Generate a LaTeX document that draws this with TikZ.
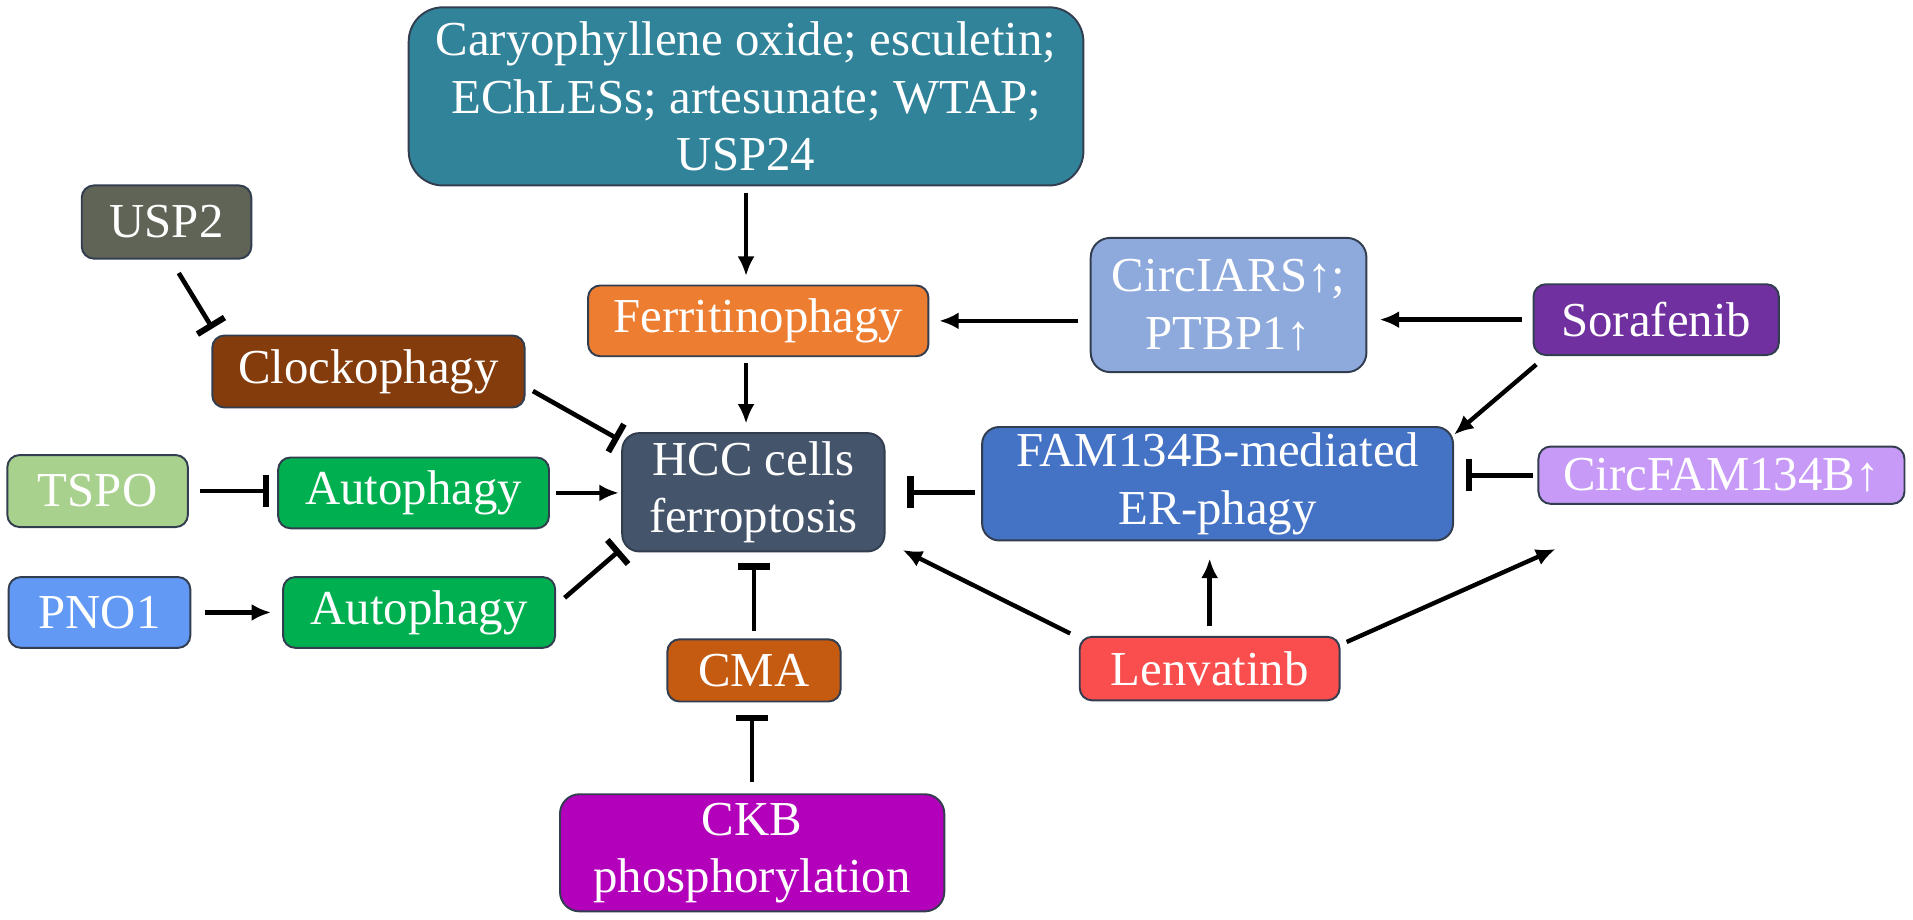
\documentclass[tikz,border=0pt]{standalone}
\usepackage{fontspec}
\setmainfont{Liberation Serif}
\usepackage{xcolor}
\usetikzlibrary{arrows.meta,calc,positioning}

\definecolor{boxline}{RGB}{50,62,79}
\definecolor{cTop}{HTML}{31839A}
\definecolor{cUsp}{HTML}{5F6457}
\definecolor{cFerr}{HTML}{ED7D31}
\definecolor{cCirc}{HTML}{8EA9DB}
\definecolor{cSora}{HTML}{7030A0}
\definecolor{cClock}{HTML}{843C0C}
\definecolor{cHcc}{HTML}{44546A}
\definecolor{cFam}{HTML}{4472C4}
\definecolor{cCfam}{HTML}{C89AF8}
\definecolor{cTspo}{HTML}{A9D18E}
\definecolor{cAuto}{HTML}{00B050}
\definecolor{cPno}{HTML}{6199F5}
\definecolor{cCma}{HTML}{C55A11}
\definecolor{cLenv}{HTML}{FA4D4D}
\definecolor{cCkb}{HTML}{B300BA}

\begin{document}
\begin{tikzpicture}[x=1pt,y=-1pt,
    box/.style={draw=boxline, line width=1.6pt, rounded corners=10pt, text=white,
                font=\fontsize{40}{47}\selectfont, align=center, inner sep=0pt},
    act/.style={-{Latex[length=16pt,width=14pt]}, line width=3.6pt},
    inh/.style={-{Bar[width=26pt,line width=5pt]}, line width=3.8pt}]
    \useasboundingbox (0,0) rectangle (1568,754);
    % boxes
    \node[box, fill=cTop, rounded corners=28pt, minimum width=553pt, minimum height=146pt] (top) at (611.5,79)
        {Caryophyllene oxide; esculetin;\\ EChLESs; artesunate; WTAP;\\ USP24};
    \node[box, fill=cUsp, minimum width=139pt, minimum height=60pt] (usp) at (136.5,182) {USP2};
    \node[box, fill=cFerr, minimum width=279pt, minimum height=58pt] (ferr) at (621.5,263) {Ferritinophagy};
    \node[box, fill=cCirc, rounded corners=16pt, minimum width=226pt, minimum height=110pt] (circ) at (1007,250) {CircIARS↑;\\ PTBP1↑};
    \node[box, fill=cSora, minimum width=201pt, minimum height=58pt] (sora) at (1357.5,262) {Sorafenib};
    \node[box, fill=cClock, minimum width=256pt, minimum height=59pt] (clock) at (302,304.5) {Clockophagy};
    \node[box, fill=cHcc, rounded corners=14pt, minimum width=215pt, minimum height=97pt] (hcc) at (617.5,403.5) {HCC cells\\ ferroptosis};
    \node[box, fill=cFam, rounded corners=14pt, minimum width=386pt, minimum height=93pt] (fam) at (998,396.5) {FAM134B-mediated\\ ER-phagy};
    \node[box, fill=cCfam, minimum width=300pt, minimum height=47pt] (cfam) at (1411,389.5) {CircFAM134B↑};
    \node[box, fill=cTspo, minimum width=148pt, minimum height=59pt] (tspo) at (80,402.5) {TSPO};
    \node[box, fill=cAuto, minimum width=222pt, minimum height=58pt] (auto1) at (339,404) {Autophagy};
    \node[box, fill=cPno, minimum width=149pt, minimum height=58pt] (pno) at (81.5,502) {PNO1};
    \node[box, fill=cAuto, minimum width=223pt, minimum height=58pt] (auto2) at (343.5,502) {Autophagy};
    \node[box, fill=cCma, minimum width=142pt, minimum height=51pt] (cma) at (618,549.5) {CMA};
    \node[box, fill=cLenv, minimum width=213pt, minimum height=52pt] (lenv) at (991.5,548) {Lenvatinb};
    \node[box, fill=cCkb, rounded corners=16pt, minimum width=315pt, minimum height=96pt] (ckb) at (616.5,699) {CKB\\ phosphorylation};
    \coordinate (lfree) at (1275,450);
    % connectors
    \path (top.south) edge[act, shorten <=5pt, shorten >=7pt] (top.south |- ferr.north)
          (top.south |- ferr.south) edge[act, shorten <=5pt, shorten >=7pt] (top.south |- hcc.north)
          (circ.west |- ferr.east) edge[act, shorten <=10pt, shorten >=8pt] (ferr.east)
          (sora.west) edge[act, shorten <=9pt, shorten >=10pt] (sora.west -| circ.east)
          ($(sora.south west)+(3,7)$) edge[act] ($(fam.north east)+(0,7)$)
          (cfam.west) edge[inh, shorten <=4pt, shorten >=10pt] (cfam.west -| fam.east)
          (fam.west |- hcc.east) edge[inh, shorten <=5pt, shorten >=18pt] (hcc.east)
          ($(lenv.north west)+(-7,-2)$) edge[act] ($(hcc.south east)+(14,-2)$)
          (lenv.north) edge[act, shorten <=8pt, shorten >=14pt] (lenv.north |- fam.south)
          ($(lenv.north east)+(5,5)$) edge[act] (lfree)
          ($(usp.south)+(10,11)$) edge[inh] ($(clock.north west)+(1,-5)$)
          ($(clock.east)+(6,16)$) edge[inh] ($(hcc.north west)+(-2,6)$)
          (tspo.east) edge[inh, shorten <=9pt, shorten >=7pt] (tspo.east -| auto1.west)
          (auto1.east) edge[act, shorten <=5pt, shorten >=2pt] (auto1.east -| hcc.west)
          (pno.east) edge[act, shorten <=11pt, shorten >=9pt] (auto2.west)
          ($(auto2.east)+(7,-12)$) edge[inh] ($(hcc.south west)+(-1,-2)$)
          (cma.north) edge[inh, shorten <=6pt, shorten >=9pt] (cma.north |- hcc.south)
          (ckb.north) edge[inh, shorten <=9pt, shorten >=10pt] (ckb.north |- cma.south);
\end{tikzpicture}
\end{document}
